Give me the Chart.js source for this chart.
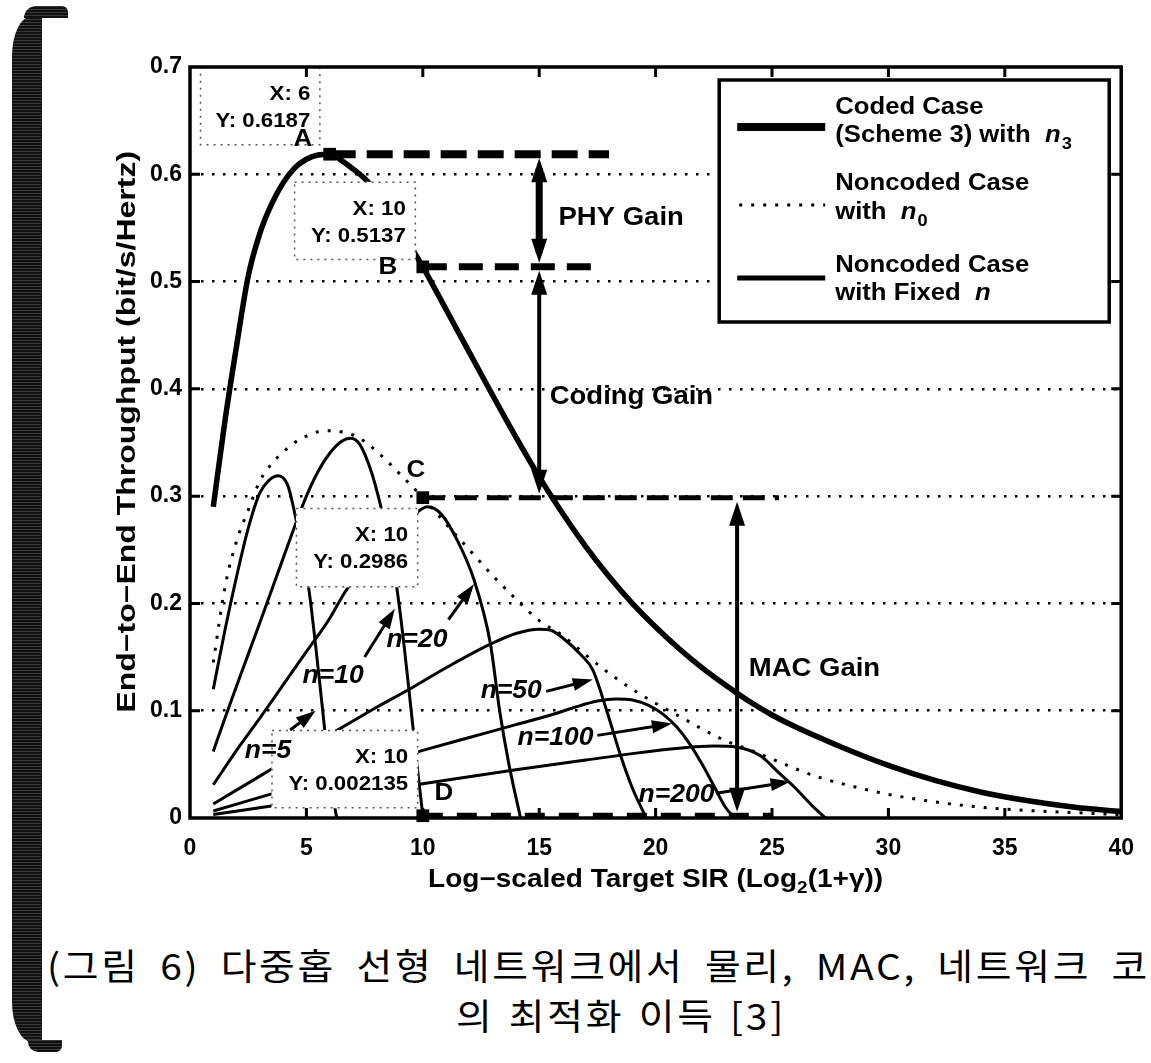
<!DOCTYPE html>
<html>
<head>
<meta charset="utf-8">
<script src="https://cdn.jsdelivr.net/npm/chart.js@4.4.1/dist/chart.umd.min.js"></script>
<style>
body { margin: 0; background: #fff; }
#wrap { position: relative; width: 1151px; height: 1063px; overflow: hidden; background: #fff; }
#c { position: absolute; left: 0; top: 0; }
.cap { position: absolute; font-family: "Noto Sans CJK KR", sans-serif; font-size: 36px; line-height: 36px; color: #000; white-space: nowrap; transform: scaleX(1.08); transform-origin: 0 0; }
.band { position: absolute; background: repeating-linear-gradient(0deg, #111 0, #111 2px, #383838 2px, #383838 3px); }
</style>
</head>
<body>
<div id="wrap">
  <canvas id="c" width="1151" height="930"></canvas>
  <div class="cap" id="cap1">(그림 6) 다중홉 선형 네트워크에서 물리, MAC, 네트워크 코</div>
  <div class="cap" id="cap2">의 최적화 이득 [3]</div>
  <div class="band" style="left:12px;top:16px;width:30px;height:1026px;border-radius:20px 0 0 20px / 40px 0 0 40px;"></div>
  <div class="band" style="left:24px;top:6px;width:44px;height:12px;border-radius:12px 6px 0 0;"></div>
  <div class="band" style="left:28px;top:1040px;width:34px;height:12px;border-radius:0 0 6px 10px;"></div>
</div>
<script>
// axis ticks
var xTicks = [0, 5, 10, 15, 20, 25, 30, 35, 40];
var yTicks = [0, 0.1, 0.2, 0.3, 0.4, 0.5, 0.6, 0.7];

// coded case (scheme 3) with n3
var codedX = [1, 1.5, 2, 2.5, 3, 3.5, 4, 4.5, 5, 5.5, 6, 6.5, 7, 7.5, 8, 8.5, 9, 9.5, 10, 11, 12, 13, 14, 15, 16, 17, 18, 19, 20, 21, 22, 23, 24, 25, 26, 28, 30, 32, 34, 36, 38, 40];
var codedY = [0.29, 0.37, 0.44, 0.505, 0.545, 0.572, 0.592, 0.606, 0.614, 0.618, 0.6187, 0.613, 0.605, 0.596, 0.584, 0.569, 0.551, 0.532, 0.5137, 0.474, 0.434, 0.394, 0.355, 0.318, 0.284, 0.253, 0.225, 0.2, 0.178, 0.158, 0.14, 0.124, 0.109, 0.096, 0.085, 0.066, 0.049, 0.035, 0.024, 0.016, 0.01, 0.006];

// noncoded case with n0
var n0X = [1, 1.5, 2, 2.5, 3, 3.5, 4, 4.5, 5, 5.5, 6, 6.5, 7, 7.5, 8, 8.5, 9, 9.5, 10, 11, 12, 13, 14, 15, 16, 17, 18, 19, 20, 21, 22, 23, 24, 25, 26, 27, 28, 30, 32, 34, 36, 38, 40];
var n0Y = [0.145, 0.215, 0.258, 0.287, 0.314, 0.33, 0.341, 0.35, 0.356, 0.36, 0.361, 0.36, 0.357, 0.351, 0.342, 0.332, 0.321, 0.31, 0.2986, 0.274, 0.25, 0.226, 0.204, 0.184, 0.17, 0.152, 0.135, 0.12, 0.107, 0.095, 0.083, 0.072, 0.064, 0.055, 0.046, 0.038, 0.032, 0.022, 0.015, 0.01, 0.007, 0.005, 0.003];

// noncoded case with fixed n
var n5X = [1, 1.5, 2, 2.5, 3, 3.4, 3.8, 4.2, 4.5, 4.8, 5.1, 5.4, 5.7, 6, 6.3];
var n5Y = [0.12, 0.175, 0.225, 0.27, 0.303, 0.315, 0.319, 0.31, 0.284, 0.25, 0.214, 0.16, 0.1, 0.04, 0];
var n10X = [1, 1.5, 2, 3, 4, 4.5, 5, 5.5, 6, 6.5, 6.9, 7.3, 7.8, 8.2, 8.6, 8.9, 9.2, 9.5, 9.75, 10];
var n10Y = [0.062, 0.093, 0.123, 0.182, 0.242, 0.272, 0.3, 0.323, 0.34, 0.351, 0.354, 0.348, 0.322, 0.29, 0.252, 0.212, 0.16, 0.1, 0.05, 0.002135];
var n20X = [1, 2, 3, 4, 5, 6, 6.7, 7.5, 8.5, 9.5, 10.2, 10.8, 11.5, 12.2, 12.9, 13.3, 13.7, 14.2];
var n20Y = [0.031, 0.063, 0.093, 0.124, 0.155, 0.186, 0.212, 0.232, 0.259, 0.28, 0.29, 0.283, 0.258, 0.222, 0.163, 0.1, 0.05, 0];
var n50X = [1, 3, 5, 6.5, 8, 9.5, 11, 12.9, 14, 15, 15.5, 16, 16.8, 17.3, 17.9, 18.5, 19, 19.6];
var n50Y = [0.013, 0.039, 0.065, 0.084, 0.103, 0.121, 0.14, 0.162, 0.172, 0.176, 0.175, 0.168, 0.152, 0.138, 0.1, 0.058, 0.028, 0];
var n100X = [1, 5, 10, 12, 14, 15.5, 16.5, 17.5, 18.3, 19, 19.7, 20.3, 20.9, 21.5, 22, 22.5, 23, 23.4];
var n100Y = [0.0065, 0.032, 0.063, 0.075, 0.087, 0.096, 0.103, 0.109, 0.111, 0.11, 0.105, 0.097, 0.085, 0.068, 0.05, 0.03, 0.01, 0];
var n200X = [1, 5, 10, 14, 17, 19, 21, 22.5, 23.5, 24.5, 25.3, 26, 26.7, 27.3];
var n200Y = [0.0033, 0.016, 0.032, 0.045, 0.054, 0.06, 0.065, 0.067, 0.066, 0.058, 0.042, 0.028, 0.012, 0];

// data tip points A, B, C, D and their dashed guide ends
var markerX = [6, 10, 10, 10];
var markerY = [0.6187, 0.5137, 0.2986, 0.002135];
var guideEndX = [18, 17.7, 25.3, 25];

// gain arrows: x, from, to
var gainX = [15, 15, 23.5];
var gainFrom = [0.6187, 0.5137, 0.2986];
var gainTo = [0.5137, 0.2986, 0.002135];

var FONT = '"Liberation Sans", Arial, sans-serif';

function pts(xs, ys) {
    return xs.map(function (v, i) { return {x: v, y: ys[i]}; });
}

var tips = [
    {x0: 0.43, x1: 5.6, y0: 0.627, y1: 0.7, lines: ['X: 6', 'Y: 0.6187']},
    {x0: 4.47, x1: 9.7, y0: 0.52, y1: 0.593, lines: ['X: 10', 'Y: 0.5137']},
    {x0: 4.55, x1: 9.8, y0: 0.215, y1: 0.289, lines: ['X: 10', 'Y: 0.2986']},
    {x0: 3.5, x1: 9.8, y0: 0.009, y1: 0.082, lines: ['X: 10', 'Y: 0.002135']}
];
var letters = [
    {t: 'A', x: 4.85, y: 0.633}, {t: 'B', x: 8.5, y: 0.513},
    {t: 'C', x: 9.7, y: 0.324}, {t: 'D', x: 10.9, y: 0.023}
];
var gainText = [
    {t: 'PHY Gain', x: 15.83, y: 0.559},
    {t: 'Coding Gain', x: 15.45, y: 0.392},
    {t: 'MAC Gain', x: 24.0, y: 0.139}
];
var nLabels = [
    {t: '5', x: 3.35, y: 0.062, a: [4.3, 0.082, 5.4, 0.1]},
    {t: '10', x: 6.15, y: 0.132, a: [7.5, 0.15, 8.8, 0.195]},
    {t: '20', x: 9.75, y: 0.166, a: [11.1, 0.185, 12.2, 0.218]},
    {t: '50', x: 13.8, y: 0.118, a: [15.3, 0.118, 17.3, 0.129]},
    {t: '100', x: 15.7, y: 0.074, a: [17.5, 0.077, 20.7, 0.088]},
    {t: '200', x: 20.9, y: 0.021, a: [22.6, 0.023, 25.8, 0.034]}
];

function head(ctx, x, y, ang, len, w) {
    var c = Math.cos(ang), s = Math.sin(ang);
    ctx.beginPath();
    ctx.moveTo(x, y);
    ctx.lineTo(x - len * c + w / 2 * s, y - len * s - w / 2 * c);
    ctx.lineTo(x - len * c - w / 2 * s, y - len * s + w / 2 * c);
    ctx.closePath();
    ctx.fill();
}

// text stretched sideways a little, like the scan
function sText(ctx, s, x, y, sx, align) {
    var w = ctx.measureText(s).width * sx;
    var x0 = align === 'right' ? x - w : (align === 'center' ? x - w / 2 : x);
    ctx.save();
    ctx.translate(x0, y);
    ctx.scale(sx, 1);
    ctx.textAlign = 'left';
    ctx.fillText(s, 0, 0);
    ctx.restore();
    return w;
}

function rich(ctx, parts, x, y, sx) {
    parts.forEach(function (p) {
        ctx.font = p.f;
        x += sText(ctx, p.t, x, y + (p.dy || 0), sx, 'left') + (p.gap || 0);
    });
}

function richWidth(ctx, parts, sx) {
    var w = 0;
    parts.forEach(function (p) { ctx.font = p.f; w += ctx.measureText(p.t).width * sx + (p.gap || 0); });
    return w;
}

var overlay = {
    id: 'overlay',
    afterDatasetsDraw: function (chart) {
        var ctx = chart.ctx, a = chart.chartArea;
        var sx = chart.scales.x, sy = chart.scales.y;
        var X = function (v) { return sx.getPixelForValue(v); };
        var Y = function (v) { return sy.getPixelForValue(v); };
        ctx.save();
        ctx.textBaseline = 'middle';

        // data tip boxes
        tips.forEach(function (t) {
            var l = X(t.x0), r = X(t.x1), tp = Y(t.y1), b = Y(t.y0);
            ctx.fillStyle = '#fff';
            ctx.fillRect(l, tp, r - l, b - tp);
            ctx.setLineDash([2, 5]);
            ctx.lineWidth = 1.5;
            ctx.strokeStyle = '#555';
            ctx.strokeRect(l + 0.5, tp + 0.5, r - l - 1, b - tp - 1);
            ctx.setLineDash([]);
            ctx.fillStyle = '#000';
            ctx.font = 'bold 21px ' + FONT;
            sText(ctx, t.lines[0], r - 10, tp + 27, 1.06, 'right');
            sText(ctx, t.lines[1], r - 10, tp + 54, 1.06, 'right');
        });

        ctx.fillStyle = '#000';
        ctx.strokeStyle = '#000';
        ctx.font = 'bold 24px ' + FONT;
        letters.forEach(function (l) { sText(ctx, l.t, X(l.x), Y(l.y), 1.08, 'center'); });

        // gain arrows
        var shaft = [7, 4, 4];
        gainX.forEach(function (g, i) {
            var px = X(g), y1 = Y(gainFrom[i]) + 4, y2 = Y(gainTo[i]) - 4;
            ctx.lineWidth = shaft[i];
            ctx.beginPath();
            ctx.moveTo(px, y1 + 10);
            ctx.lineTo(px, y2 - 10);
            ctx.stroke();
            head(ctx, px, y1, -Math.PI / 2, 24, 16);
            head(ctx, px, y2, Math.PI / 2, 24, 16);
        });

        ctx.font = 'bold 25px ' + FONT;
        gainText.forEach(function (g) { sText(ctx, g.t, X(g.x), Y(g.y), 1.1, 'left'); });

        // n labels and their arrows
        nLabels.forEach(function (n) {
            ctx.font = 'italic bold 25px ' + FONT;
            sText(ctx, 'n=' + n.t, X(n.x), Y(n.y), 1.06, 'center');
            var x1 = X(n.a[0]), y1 = Y(n.a[1]), x2 = X(n.a[2]), y2 = Y(n.a[3]);
            var ang = Math.atan2(y2 - y1, x2 - x1);
            ctx.lineWidth = 3;
            ctx.beginPath();
            ctx.moveTo(x1, y1);
            ctx.lineTo(x2 - 12 * Math.cos(ang), y2 - 12 * Math.sin(ang));
            ctx.stroke();
            head(ctx, x2, y2, ang, 20, 13);
        });

        // legend
        var lw = 390, lh = 242, lr = a.right - 12, lt = a.top + 13, ll = lr - lw;
        ctx.fillStyle = '#fff';
        ctx.fillRect(ll, lt, lw, lh);
        ctx.lineWidth = 3.5;
        ctx.strokeRect(ll, lt, lw, lh);
        ctx.fillStyle = '#000';
        ctx.lineWidth = 8;
        ctx.beginPath(); ctx.moveTo(ll + 18, lt + 47); ctx.lineTo(ll + 106, lt + 47); ctx.stroke();
        ctx.lineWidth = 3;
        ctx.setLineDash([3, 9]);
        ctx.beginPath(); ctx.moveTo(ll + 20, lt + 125); ctx.lineTo(ll + 106, lt + 125); ctx.stroke();
        ctx.setLineDash([]);
        ctx.lineWidth = 5;
        ctx.beginPath(); ctx.moveTo(ll + 18, lt + 198); ctx.lineTo(ll + 106, lt + 198); ctx.stroke();

        var B = 'bold 24px ' + FONT, I = 'italic bold 24px ' + FONT, S = 'bold 17px ' + FONT;
        var tx = ll + 116, k = 1.07;
        rich(ctx, [{t: 'Coded Case', f: B}], tx, lt + 27, k);
        rich(ctx, [{t: '(Scheme 3) with  ', f: B}, {t: 'n', f: I, gap: 1}, {t: '3', f: S, dy: 9}], tx, lt + 55, k);
        rich(ctx, [{t: 'Noncoded Case', f: B}], tx, lt + 103, k);
        rich(ctx, [{t: 'with  ', f: B}, {t: 'n', f: I, gap: 1}, {t: '0', f: S, dy: 9}], tx, lt + 132, k);
        rich(ctx, [{t: 'Noncoded Case', f: B}], tx, lt + 185, k);
        rich(ctx, [{t: 'with Fixed  ', f: B}, {t: 'n', f: I}], tx, lt + 213, k);

        // axis titles
        var T = 'bold 25px ' + FONT, T2 = 'bold 17px ' + FONT;
        var xt = [{t: 'Log\u2212scaled Target SIR (Log', f: T}, {t: '2', f: T2, dy: 8}, {t: '(1+\u03b3))', f: T}];
        var xw = richWidth(ctx, xt, 1.12);
        rich(ctx, xt, (a.left + a.right) / 2 - xw / 2, a.bottom + 62, 1.12);

        ctx.save();
        ctx.translate(128, Y(0.36));
        ctx.rotate(-Math.PI / 2);
        ctx.font = 'bold 25px ' + FONT;
        sText(ctx, 'End\u2212to\u2212End Throughput (bit/s/Hertz)', 0, 0, 1.28, 'center');
        ctx.restore();

        // axes box and inward ticks
        ctx.lineWidth = 3.5;
        ctx.strokeRect(a.left, a.top, a.right - a.left, a.bottom - a.top);
        ctx.lineWidth = 3;
        ctx.beginPath();
        xTicks.slice(1, -1).forEach(function (v) {
            var p = X(v);
            ctx.moveTo(p, a.bottom); ctx.lineTo(p, a.bottom - 10);
            ctx.moveTo(p, a.top); ctx.lineTo(p, a.top + 10);
        });
        yTicks.slice(1, -1).forEach(function (v) {
            var p = Y(v);
            ctx.moveTo(a.left, p); ctx.lineTo(a.left + 10, p);
            ctx.moveTo(a.right, p); ctx.lineTo(a.right - 10, p);
        });
        ctx.stroke();
        ctx.restore();
    }
};

var datasets = [
    {data: pts(codedX, codedY), borderColor: '#000', borderWidth: 5.5},
    {data: pts(n0X, n0Y), borderColor: '#000', borderWidth: 3, borderDash: [3, 9]},
    {data: pts(n5X, n5Y), borderColor: '#000', borderWidth: 3},
    {data: pts(n10X, n10Y), borderColor: '#000', borderWidth: 3},
    {data: pts(n20X, n20Y), borderColor: '#000', borderWidth: 3},
    {data: pts(n50X, n50Y), borderColor: '#000', borderWidth: 3},
    {data: pts(n100X, n100Y), borderColor: '#000', borderWidth: 3},
    {data: pts(n200X, n200Y), borderColor: '#000', borderWidth: 3}
];
var guideDash = [[26, 11], [24, 12], [22, 10], [20, 14]];
var guideWidth = [8, 7, 5, 6];
markerX.forEach(function (mx, i) {
    datasets.push({
        data: [{x: mx, y: markerY[i]}, {x: guideEndX[i], y: markerY[i]}],
        borderColor: '#000', borderWidth: guideWidth[i], borderDash: guideDash[i], clip: false
    });
});
datasets.push({
    data: pts(markerX, markerY), showLine: false, pointStyle: 'rect', pointRadius: 9,
    pointBackgroundColor: '#000', pointBorderWidth: 0, clip: false
});
datasets.forEach(function (d) {
    if (d.pointRadius === undefined) d.pointRadius = 0;
    d.cubicInterpolationMode = 'monotone';
    d.fill = false;
});

var chart = new Chart(document.getElementById('c').getContext('2d'), {
    type: 'line',
    data: {datasets: datasets},
    options: {
        responsive: false,
        animation: false,
        devicePixelRatio: 1,
        layout: {padding: {left: 0, right: 21, top: 67, bottom: 12}},
        plugins: {legend: {display: false}, tooltip: {enabled: false}},
        scales: {
            x: {
                type: 'linear', min: 0, max: 40,
                afterBuildTicks: function (s) { s.ticks = xTicks.map(function (v) { return {value: v}; }); },
                afterFit: function (s) { s.height = 100; },
                grid: {display: false, drawTicks: false},
                border: {display: false},
                ticks: {color: '#000', padding: 17, maxRotation: 0, font: {family: FONT, size: 23, weight: 'bold'}}
            },
            y: {
                min: 0, max: 0.7,
                afterBuildTicks: function (s) { s.ticks = yTicks.map(function (v) { return {value: v}; }); },
                afterFit: function (s) { s.width = 190; },
                grid: {
                    drawTicks: false, lineWidth: 2.5,
                    color: function (c) {
                        var v = c.tick ? c.tick.value : 0;
                        return (v < 0.05 || v > 0.65) ? 'rgba(0,0,0,0)' : '#000';
                    }
                },
                border: {display: false, dash: [2.5, 8.5]},
                ticks: {color: '#000', padding: 8, font: {family: FONT, size: 23, weight: 'bold'},
                    callback: function (v) { return String(Math.round(v * 10) / 10); }}
            }
        }
    },
    plugins: [overlay]
});

// caption layout: glyphs a bit wider, remaining room goes to the spaces
function fit(el, left, width, top) {
    var k = 1.08;
    el.style.letterSpacing = '2.5px';
    el.style.wordSpacing = '0px';
    var w0 = el.getBoundingClientRect().width;
    var spaces = el.textContent.split(' ').length - 1;
    el.style.wordSpacing = Math.max(0, (width - w0) / (spaces * k)) + 'px';
    el.style.left = left + 'px';
    el.style.top = top + 'px';
}
fit(document.getElementById('cap1'), 47, 1103, 946);
fit(document.getElementById('cap2'), 456, 330, 996);
</script>
</body>
</html>
